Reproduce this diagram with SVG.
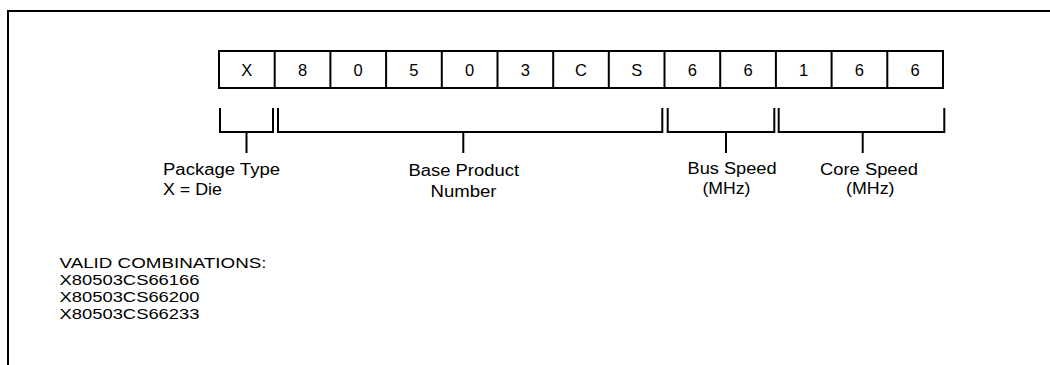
<svg xmlns="http://www.w3.org/2000/svg" width="1050" height="365" viewBox="0 0 1050 365">
<style>
.ln{fill:none;stroke:#000;stroke-width:2}
.t{font-family:"Liberation Sans",Arial,sans-serif;fill:#000;font-size:16px}
.c{font-family:"Liberation Sans",Arial,sans-serif;fill:#000;font-size:16.5px;text-anchor:middle}
.v{font-family:"Liberation Sans",Arial,sans-serif;fill:#000;font-size:15px}
</style>
<rect width="1050" height="365" fill="#fff"/>
<path class="ln" d="M8,365 V11 H1050"/>
<g id="part-number">
<rect class="ln" x="219" y="51" width="724" height="37"/>
<path class="ln" d="M274.7,51V88M330.4,51V88M386.1,51V88M441.8,51V88M497.5,51V88M553.2,51V88M608.8,51V88M664.5,51V88M720.2,51V88M775.9,51V88M831.6,51V88M887.3,51V88"/>
<text class="c" x="246.8" y="75.5">X</text>
<text class="c" x="302.5" y="75.5">8</text>
<text class="c" x="358.2" y="75.5">0</text>
<text class="c" x="413.9" y="75.5">5</text>
<text class="c" x="469.6" y="75.5">0</text>
<text class="c" x="525.3" y="75.5">3</text>
<text class="c" x="581" y="75.5">C</text>
<text class="c" x="636.7" y="75.5">S</text>
<text class="c" x="692.3" y="75.5">6</text>
<text class="c" x="748" y="75.5">6</text>
<text class="c" x="803.7" y="75.5">1</text>
<text class="c" x="859.4" y="75.5">6</text>
<text class="c" x="915.1" y="75.5">6</text>
</g>
<g id="connectors">
<path class="ln" d="M220,108V132H273V108M246.5,132V153"/>
<path class="ln" d="M278,108V132H662.3V108M463.3,132V153"/>
<path class="ln" d="M667.7,108V132H774.3V108M726,132V153"/>
<path class="ln" d="M778.7,108V132H944.3V108M862.7,132V153"/>
</g>
<g id="package-type">
<text class="t" x="163" y="174.5" textLength="117" lengthAdjust="spacingAndGlyphs">Package Type</text>
<text class="t" x="163" y="195" textLength="59" lengthAdjust="spacingAndGlyphs">X = Die</text>
</g>
<g id="base-product">
<text class="t" x="408.5" y="175.5" textLength="110.5" lengthAdjust="spacingAndGlyphs">Base Product</text>
<text class="t" x="430.5" y="196.5" textLength="66" lengthAdjust="spacingAndGlyphs">Number</text>
</g>
<g id="bus-speed">
<text class="t" x="687.5" y="174" textLength="89" lengthAdjust="spacingAndGlyphs">Bus Speed</text>
<text class="t" x="702.5" y="194" textLength="48" lengthAdjust="spacingAndGlyphs">(MHz)</text>
</g>
<g id="core-speed">
<text class="t" x="820" y="174.5" textLength="98" lengthAdjust="spacingAndGlyphs">Core Speed</text>
<text class="t" x="846" y="194" textLength="48.5" lengthAdjust="spacingAndGlyphs">(MHz)</text>
</g>
<g id="valid-combinations">
<text class="v" x="59.5" y="268" textLength="207" lengthAdjust="spacingAndGlyphs">VALID COMBINATIONS:</text>
<text class="v" x="59.5" y="285" textLength="140" lengthAdjust="spacingAndGlyphs">X80503CS66166</text>
<text class="v" x="59.5" y="302" textLength="140" lengthAdjust="spacingAndGlyphs">X80503CS66200</text>
<text class="v" x="59.5" y="319" textLength="140" lengthAdjust="spacingAndGlyphs">X80503CS66233</text>
</g>
</svg>
